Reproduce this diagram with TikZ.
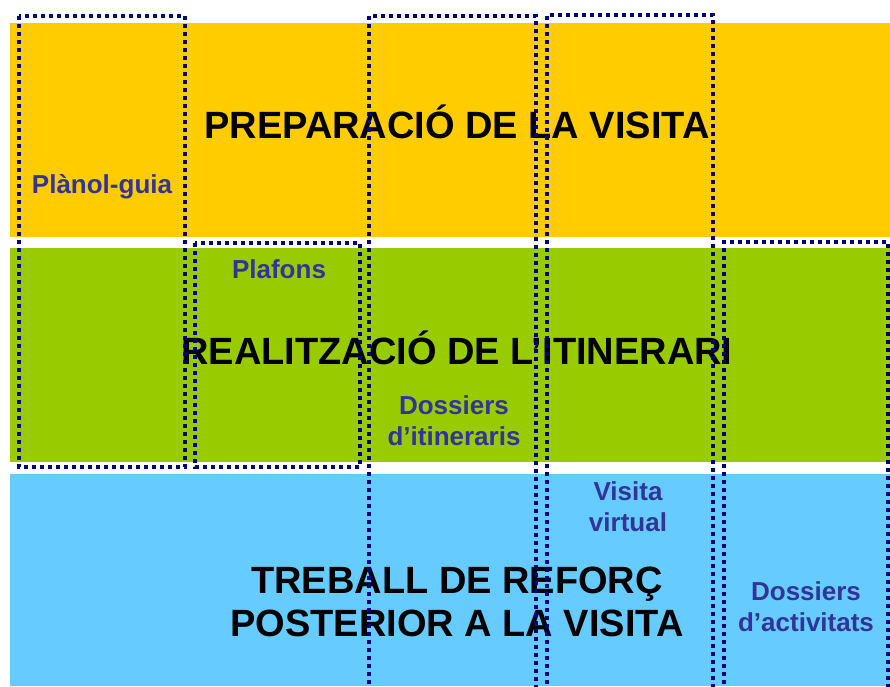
\documentclass[tikz,border=0pt]{standalone}
\usepackage{fontspec}
\setmainfont{Liberation Sans}
\usetikzlibrary{positioning}
\definecolor{prepcol}{HTML}{FFCC00}
\definecolor{realcol}{HTML}{99CC00}
\definecolor{refcol}{HTML}{66CCFF}
\definecolor{zonecol}{HTML}{000080}
\definecolor{tagcol}{HTML}{333399}
\tikzset{zone/.style = {draw=zonecol, line width=3.6pt, line cap=butt,
                        dash pattern=on 3.6pt off 4.4pt},
         phase/.style = {font=\fontsize{38}{43}\selectfont\bfseries, align=center,
                         inner sep=0pt, anchor=base},
         tag/.style = {text=tagcol, font=\fontsize{26}{31}\selectfont\bfseries,
                       align=center, inner sep=0pt, anchor=base}}

\begin{document}
\begin{tikzpicture}[x=1pt, y=-1pt]
      \useasboundingbox (0, 0) rectangle (890, 686);
      \clip (0, 0) rectangle (890, 686);
      \fill [white] (0, 0) rectangle (890, 686);

      \foreach \ya/\yb/\c in {23/237/prepcol, 248/462/realcol, 474/686/refcol} {
        \fill [\c] (10, \ya) rectangle (890, \yb);
      }

      % base of a two-line node is its last line
      \node [phase] (prep) at (457, 138) {PREPARACIÓ DE LA VISITA};
      \node [phase] (realit) at (457, 364) {REALITZACIÓ DE L’ITINERARI};
      \node [phase] (reforc) at (457, 636) {TREBALL DE REFORÇ\\POSTERIOR A LA VISITA};

      \node [tag] (planol) at (102, 193) {Plànol-guia};
      \node [tag] (plafons) at (279, 278) {Plafons};
      \node [tag] (dossit) at (454, 445) {Dossiers\\d’itineraris};
      \node [tag] (visita) at (628, 531) {Visita\\virtual};
      \node [tag] (dossact) at (806, 631) {Dossiers\\d’activitats};

      % material zones
      \draw [zone] (19, 16) rectangle (185, 467);
      \draw [zone] (195, 243) rectangle (360, 467);
      \draw [zone] (369, 700) -- (369, 16) -- (536, 16) -- (536, 700);
      \draw [zone] (547, 700) -- (547, 15) -- (713, 15) -- (713, 700);
      \draw [zone] (724, 700) -- (724, 242) -- (888, 242) -- (888, 700);
    \end{tikzpicture}
\end{document}
